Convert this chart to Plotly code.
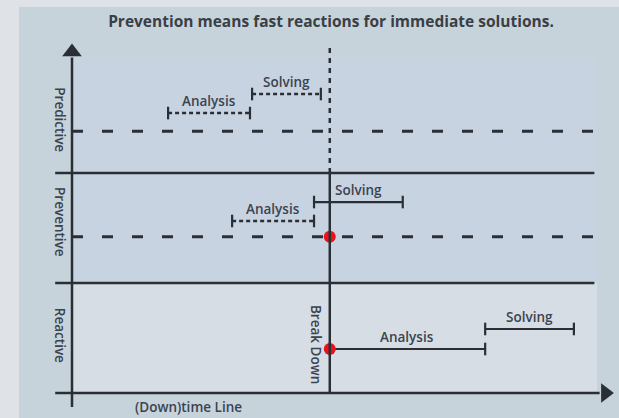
import plotly.graph_objects as go

# ---- data (time units on x, band levels on y) ----
levels = ["Reactive", "Preventive", "Predictive"]          # bands 0-1, 1-2, 2-3
level_label_y = [0.52, 1.555, 2.48]
breakdown_t = 49.1
warning_levels = [1.42, 2.38]                               # dashed lines (Preventive, Predictive)
event_t = [49.1, 49.1]
event_y = [0.40, 1.42]

seg_names = ["Analysis", "Solving", "Analysis", "Solving", "Analysis", "Solving"]
seg_start = [18.3, 34.3, 30.5, 46.1, 49.1, 78.7]
seg_end = [33.9, 47.4, 46.1, 63.0, 78.7, 95.6]
seg_y = [2.545, 2.718, 1.564, 1.736, 0.40, 0.582]
seg_dash = ["dot", "dot", "dot", "solid", "solid", "solid"]

title_text = "Prevention means fast reactions for immediate solutions."
x_label = "(Down)time Line"
break_label = "Break Down"

# ---- styling ----
DARK = "#2a2f36"
TXT = "#3b434e"
PANEL = "#c6d3db"
OUTER = "#dfe2e6"
BAND_UP = "#c8d3e1"
BAND_LOW = "#d7dde4"
FONT = "Open Sans"
LAB = 13.5

fig = go.Figure()

shapes = []
# outer strips (paper coords)
shapes.append(dict(type="rect", xref="paper", yref="paper", x0=-0.2, x1=-0.0624, y0=-0.1, y1=1.2,
                   fillcolor=OUTER, line_width=0, layer="below"))
shapes.append(dict(type="rect", xref="paper", yref="paper", x0=-0.2, x1=1.1, y0=1.0924, y1=1.2,
                   fillcolor=OUTER, line_width=0, layer="below"))
# inner bands
shapes.append(dict(type="rect", x0=0, x1=100, y0=1, y1=3.045, fillcolor=BAND_UP, line_width=0, layer="below"))
shapes.append(dict(type="rect", x0=0, x1=100, y0=0, y1=1, fillcolor=BAND_LOW, line_width=0, layer="below"))
# separators
for yb in [1, 2]:
    shapes.append(dict(type="line", x0=-3.2, x1=99.5, y0=yb, y1=yb, line=dict(color=DARK, width=2.5)))
# warning dashed lines
for yw in warning_levels:
    shapes.append(dict(type="line", x0=0, x1=100, y0=yw, y1=yw,
                       line=dict(color=DARK, width=3, dash="11px,19px")))
# breakdown vertical line
shapes.append(dict(type="line", x0=breakdown_t, x1=breakdown_t, y0=0, y1=2, line=dict(color=DARK, width=2.5)))
shapes.append(dict(type="line", x0=breakdown_t, x1=breakdown_t, y0=2, y1=3.14,
                   line=dict(color=DARK, width=2.5, dash="5px,5px")))
# axes
shapes.append(dict(type="line", x0=0, x1=0, y0=-0.127, y1=3.05, line=dict(color=DARK, width=2.5)))
shapes.append(dict(type="line", x0=-3.2, x1=100.5, y0=0, y1=0, line=dict(color=DARK, width=2.5)))

# arrow heads
fig.add_trace(go.Scatter(x=[0], y=[3.1], mode="markers", cliponaxis=False, hoverinfo="skip",
                         marker=dict(symbol="triangle-up", size=17, color=DARK)))
fig.add_trace(go.Scatter(x=[101.6], y=[0], mode="markers", cliponaxis=False, hoverinfo="skip",
                         marker=dict(symbol="triangle-right", size=17, color=DARK)))

annotations = []
# segments
for name, s, e, yy, d in zip(seg_names, seg_start, seg_end, seg_y, seg_dash):
    fig.add_trace(go.Scatter(
        x=[s, e], y=[yy, yy], mode="lines+markers", hoverinfo="skip",
        line=dict(color=DARK, width=2.5 if d == "dot" else 2.2, dash="4px,3px" if d == "dot" else "solid"),
        marker=dict(symbol="line-ns", size=9, line=dict(color=DARK, width=2.2))))
    annotations.append(dict(x=(s + e) / 2, y=yy + 0.11, text=name, showarrow=False,
                            font=dict(family=FONT, size=LAB, color=TXT, weight=600)))

# events (red dots)
fig.add_trace(go.Scatter(x=event_t, y=event_y, mode="markers", hoverinfo="skip",
                         marker=dict(color="#e8141c", size=12)))

# band labels
for lab, yy in zip(levels, level_label_y):
    annotations.append(dict(x=-2.3, y=yy, text=lab, showarrow=False, textangle=90,
                            font=dict(family=FONT, size=LAB, color=TXT, weight=600)))
annotations.append(dict(x=46.5, y=0.445, text=break_label, showarrow=False, textangle=90,
                        font=dict(family=FONT, size=LAB, color=TXT, weight=600)))
annotations.append(dict(x=22.1, y=-0.125, text=x_label, showarrow=False,
                        font=dict(family=FONT, size=LAB, color=TXT, weight=600)))

fig.update_layout(
    width=619, height=418,
    margin=dict(l=54, r=4, t=41, b=9),
    paper_bgcolor=PANEL, plot_bgcolor=PANEL,
    showlegend=False,
    shapes=shapes, annotations=annotations,
    title=dict(text=title_text, xref="container", yref="container", x=331 / 619, xanchor="center",
               y=1 - 22 / 418, yanchor="middle",
               font=dict(family=FONT, size=15.5, color="#3a3f45", weight=700)),
    xaxis=dict(range=[-3.4286, 103.4286], visible=False, fixedrange=True),
    yaxis=dict(range=[-0.1455, 3.2], visible=False, fixedrange=True),
)

fig.write_html("out.html", config={"displayModeBar": False},
               post_script="document.body.style.margin='0';document.body.style.background='#dfe2e6';")
